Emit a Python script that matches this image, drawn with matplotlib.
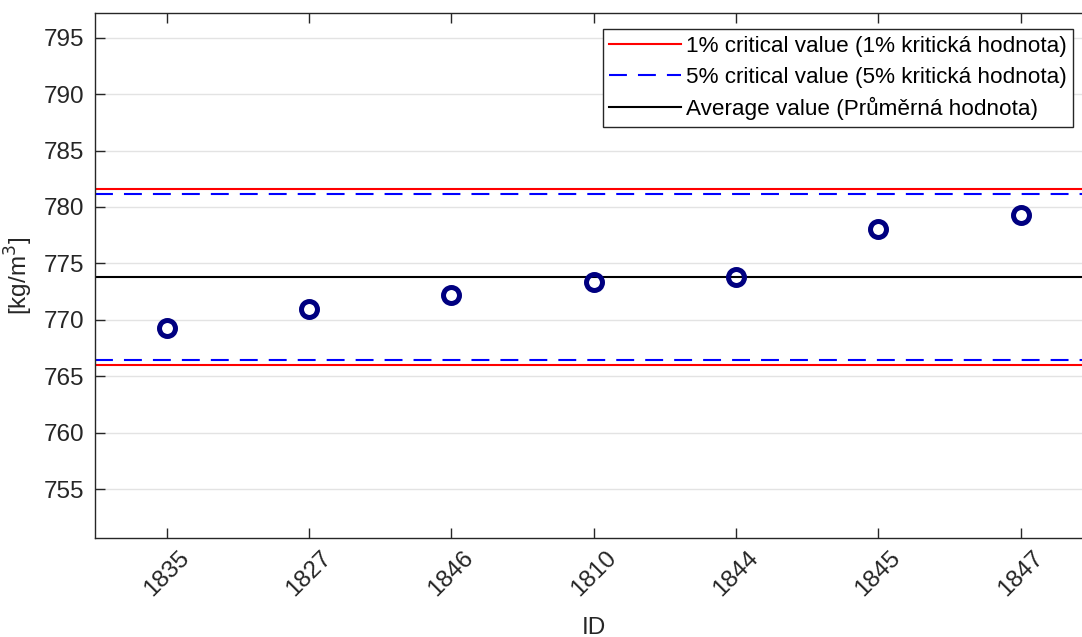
import matplotlib.pyplot as plt

# sample IDs and measured densities
ids = ['1835', '1827', '1846', '1810', '1844', '1845', '1847']
values = [769.26, 770.94, 772.24, 773.39, 773.78, 778.06, 779.27]

# reference lines
crit_1_low, crit_1_high = 765.98, 781.57
crit_5_low, crit_5_high = 766.43, 781.13
average = 773.78

labels = ['1% critical value (1% kritická hodnota)',
          '5% critical value (5% kritická hodnota)',
          'Average value (Průměrná hodnota)']


def main():
    plt.rcParams['font.family'] = ['Liberation Sans', 'DejaVu Sans']
    fig = plt.figure(figsize=(10.82, 6.37), dpi=100)
    ax = fig.add_axes([0.0881, 0.155, 0.921, 0.825])

    x = list(range(1, len(ids) + 1))
    xlim = (0.5, len(ids) + 0.5)

    h1, = ax.plot(xlim, [crit_1_high] * 2, color='red', lw=1.5)
    ax.plot(xlim, [crit_1_low] * 2, color='red', lw=1.5)
    h2, = ax.plot(xlim, [crit_5_high] * 2, color='blue', lw=1.5, dashes=(8.6, 5.3))
    ax.plot(xlim, [crit_5_low] * 2, color='blue', lw=1.5, dashes=(8.6, 5.3))
    h3, = ax.plot(xlim, [average] * 2, color='black', lw=1.5)

    ax.plot(x, values, 'o', mfc='none', mec='#000080', ms=11.5, mew=3.6,
            linestyle='none', zorder=5)

    ax.set_xlim(xlim)
    ax.set_ylim(750.66, 797.2)
    ax.set_xticks(x)
    ax.set_xticklabels(ids, rotation=45, fontsize=17.5, color='#262626')
    ax.set_yticks(range(755, 800, 5))
    ax.tick_params(axis='y', labelsize=17.5, labelcolor='#262626', pad=8)
    ax.tick_params(axis='x', pad=6)
    ax.tick_params(direction='in', length=7, width=1, top=True, right=True,
                   color='#262626')
    ax.grid(axis='y', color='#e3e3e3', lw=1)
    ax.set_axisbelow(True)
    for s in ax.spines.values():
        s.set_color('#262626')
        s.set_linewidth(1)

    ax.set_xlabel('ID', fontsize=17.5, color='#262626', labelpad=12)
    ax.set_ylabel('[kg/m$^3$]', fontsize=17.5, color='#262626', labelpad=6)

    leg = ax.legend([h1, h2, h3], labels, loc='upper right', fontsize=16.2,
                    bbox_to_anchor=(0.986, 0.977), fancybox=False,
                    framealpha=1, edgecolor='#262626', handlelength=3.2,
                    handletextpad=0.2, borderpad=0.3, labelspacing=0.42,
                    borderaxespad=0.2)
    leg.get_frame().set_linewidth(1)

    fig.savefig('out.png', dpi=100)


if __name__ == '__main__':
    main()
